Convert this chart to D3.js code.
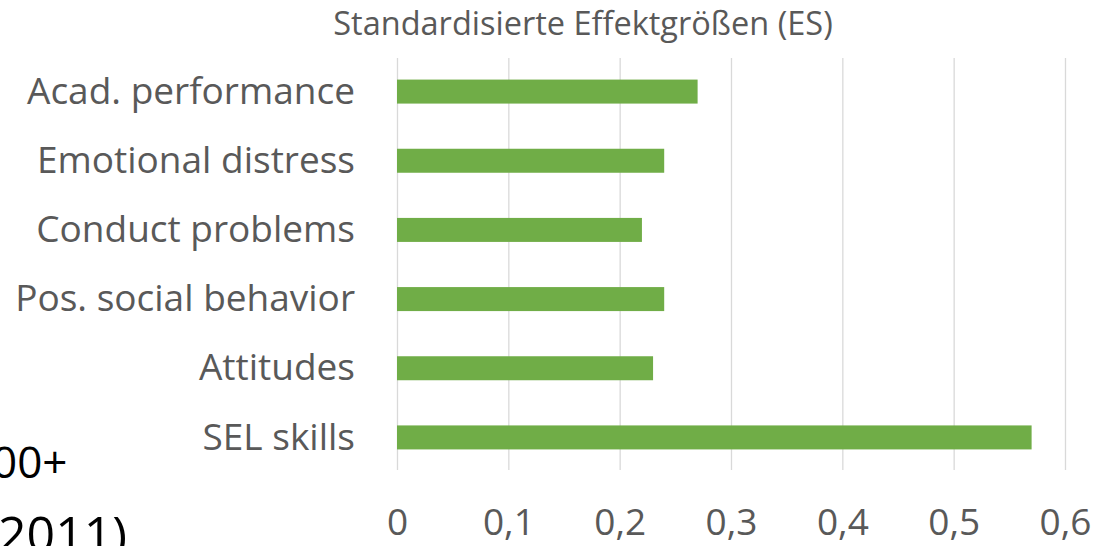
<!DOCTYPE html>
<html>
<head>
<meta charset="utf-8">
<script src="https://cdn.jsdelivr.net/npm/d3@7"></script>
<style>
  html, body { margin: 0; padding: 0; background: #fff; }
  svg { display: block; }
</style>
</head>
<body>
<div id="chart"></div>
<script>
const categories = ["Acad. performance", "Emotional distress", "Conduct problems", "Pos. social behavior", "Attitudes", "SEL skills"];
const effectSizes = [0.27, 0.24, 0.22, 0.24, 0.23, 0.57];
const tickValues = [0, 0.1, 0.2, 0.3, 0.4, 0.5, 0.6];
const title = "Standardisierte Effektgrößen (ES)";
const slideFragments = ["00+", "2011)"];

const width = 1099;
const height = 546;
const font = "'Open Sans', sans-serif";

const svg = d3.select("#chart")
  .append("svg")
  .attr("width", width)
  .attr("height", height)
  .attr("viewBox", `0 0 ${width} ${height}`);

const x = d3.scaleLinear().domain([0, 0.6]).range([397, 1065]);

const y = d3.scaleBand()
  .domain(categories)
  .range([57, 472])
  .paddingInner(0.653)
  .paddingOuter(0.3265);

// gridlines
svg.append("g")
  .attr("transform", "translate(0, 58)")
  .call(d3.axisBottom(x).tickValues(tickValues).tickSize(412).tickFormat(""))
  .call((g) => g.select(".domain").remove())
  .call((g) => g.selectAll(".tick line").attr("stroke", "#d9d9d9").attr("stroke-width", 1.3));

// bars
svg.append("g")
  .selectAll("rect")
  .data(categories.map((c, i) => ({ label: c, value: effectSizes[i] })))
  .enter()
  .append("rect")
  .attr("x", x(0))
  .attr("y", (d) => y(d.label))
  .attr("width", (d) => x(d.value) - x(0))
  .attr("height", y.bandwidth())
  .attr("fill", "#70ad47");

// category labels
svg.append("g")
  .attr("transform", "translate(397, 0)")
  .call(d3.axisLeft(y).tickSize(0).tickPadding(42))
  .call((g) => g.select(".domain").remove())
  .call((g) => g.selectAll("text")
    .attr("fill", "#595959")
    .attr("font-family", font)
    .attr("font-size", 37)
    .attr("dy", "0.33em"));

// value axis labels
svg.append("g")
  .attr("transform", "translate(0, 470)")
  .call(d3.axisBottom(x).tickValues(tickValues).tickSize(0).tickPadding(39)
    .tickFormat((v) => d3.format(".1~f")(v).replace(".", ",")))
  .call((g) => g.select(".domain").remove())
  .call((g) => g.selectAll("text")
    .attr("fill", "#595959")
    .attr("font-family", font)
    .attr("font-size", 37));

// title
svg.append("text")
  .attr("x", 583)
  .attr("y", 35)
  .attr("text-anchor", "middle")
  .attr("fill", "#595959")
  .attr("font-family", font)
  .attr("font-size", 32.5)
  .text(title);

// cut-off slide text on the left
svg.append("text")
  .attr("x", -8)
  .attr("y", 478)
  .attr("fill", "#000")
  .attr("font-family", font)
  .attr("font-size", 44)
  .text(slideFragments[0]);

svg.append("text")
  .attr("x", -2)
  .attr("y", 552)
  .attr("fill", "#000")
  .attr("font-family", font)
  .attr("font-size", 50)
  .text(slideFragments[1]);
</script>
</body>
</html>
